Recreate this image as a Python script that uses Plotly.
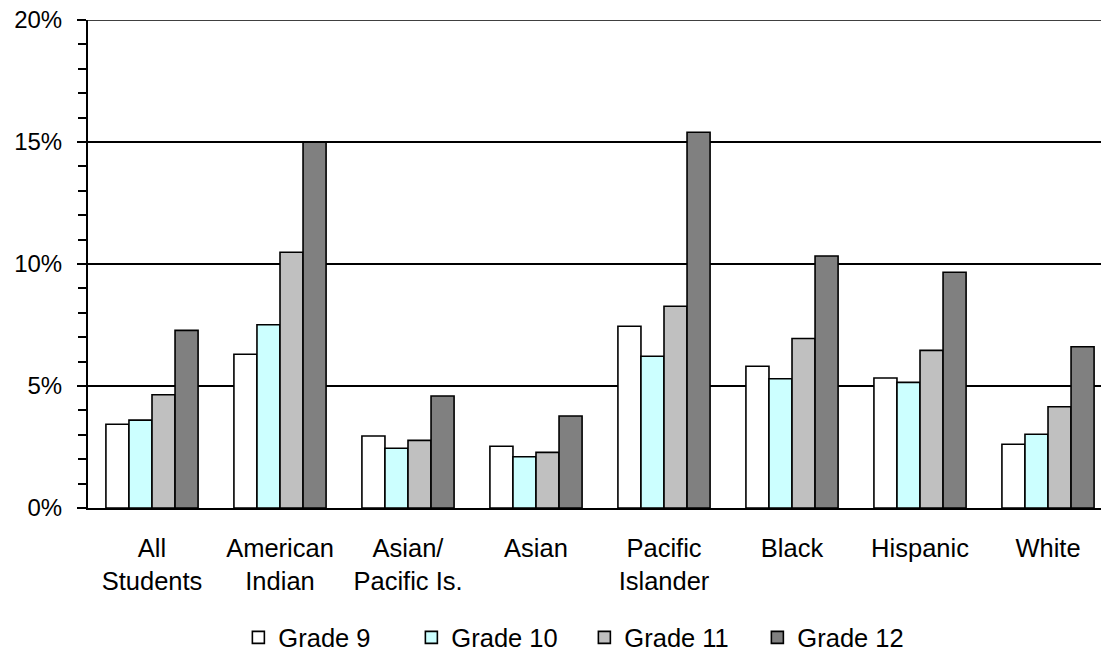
import plotly.graph_objects as go

categories = ["All<br>Students", "American<br>Indian", "Asian/<br>Pacific Is.", "Asian",
              "Pacific<br>Islander", "Black", "Hispanic", "White"]
grade9 = [3.43, 6.30, 2.95, 2.53, 7.45, 5.81, 5.33, 2.61]
grade10 = [3.60, 7.51, 2.45, 2.10, 6.22, 5.30, 5.15, 3.02]
grade11 = [4.64, 10.48, 2.77, 2.28, 8.27, 6.95, 6.46, 4.15]
grade12 = [7.28, 14.99, 4.59, 3.77, 15.40, 10.33, 9.66, 6.61]
series_names = ["Grade 9", "Grade 10", "Grade 11", "Grade 12"]
series_colors = ["#FFFFFF", "#CCFFFF", "#C0C0C0", "#808080"]

fig = go.Figure()
for name, vals, col in zip(series_names, [grade9, grade10, grade11, grade12], series_colors):
    fig.add_trace(go.Bar(
        x=categories, y=[v / 100 for v in vals], name=name,
        marker=dict(color=col, line=dict(color="black", width=1.6)),
    ))

# top gridline at 20% (plotly omits the gridline on the plot edge)
fig.add_hline(y=0.2, line=dict(color="black", width=1.5), layer="below")

font_family = "Arial, Liberation Sans, sans-serif"
fig.update_layout(
    width=1101, height=656,
    margin=dict(l=88, r=0, t=20, b=148, autoexpand=False),
    paper_bgcolor="white", plot_bgcolor="white",
    barmode="group", bargap=0.28, bargroupgap=0,
    font=dict(family=font_family, size=26, color="black"),
    showlegend=True,
    legend=dict(orientation="h", x=0.49, xanchor="center", y=-0.266, yanchor="middle",
                font=dict(size=25.5), itemwidth=30, tracegroupgap=0, entrywidth=128,
                bgcolor="rgba(0,0,0,0)"),
    xaxis=dict(range=[-0.5, 7.414], showline=True, linecolor="black", linewidth=2,
               ticks="", showgrid=False, tickfont=dict(size=25.5), ticklabelstandoff=16,
               automargin=False),
    yaxis=dict(range=[0, 0.20001], tick0=0, dtick=0.05, tickformat=".0%", showline=True,
               linecolor="black", linewidth=2, ticks="outside", ticklen=9,
               tickcolor="black", tickwidth=2, showgrid=True, gridcolor="black",
               gridwidth=1.5, zeroline=False, tickfont=dict(size=24),
               ticklabelstandoff=10, automargin=False, ticklabeloverflow="allow",
               minor=dict(tick0=0, dtick=0.01, ticks="outside", ticklen=8, tickcolor="black",
                          tickwidth=2, showgrid=False)),
)

fig.write_html("out.html", config={"displayModeBar": False},
               post_script="document.body.style.margin='0';")
